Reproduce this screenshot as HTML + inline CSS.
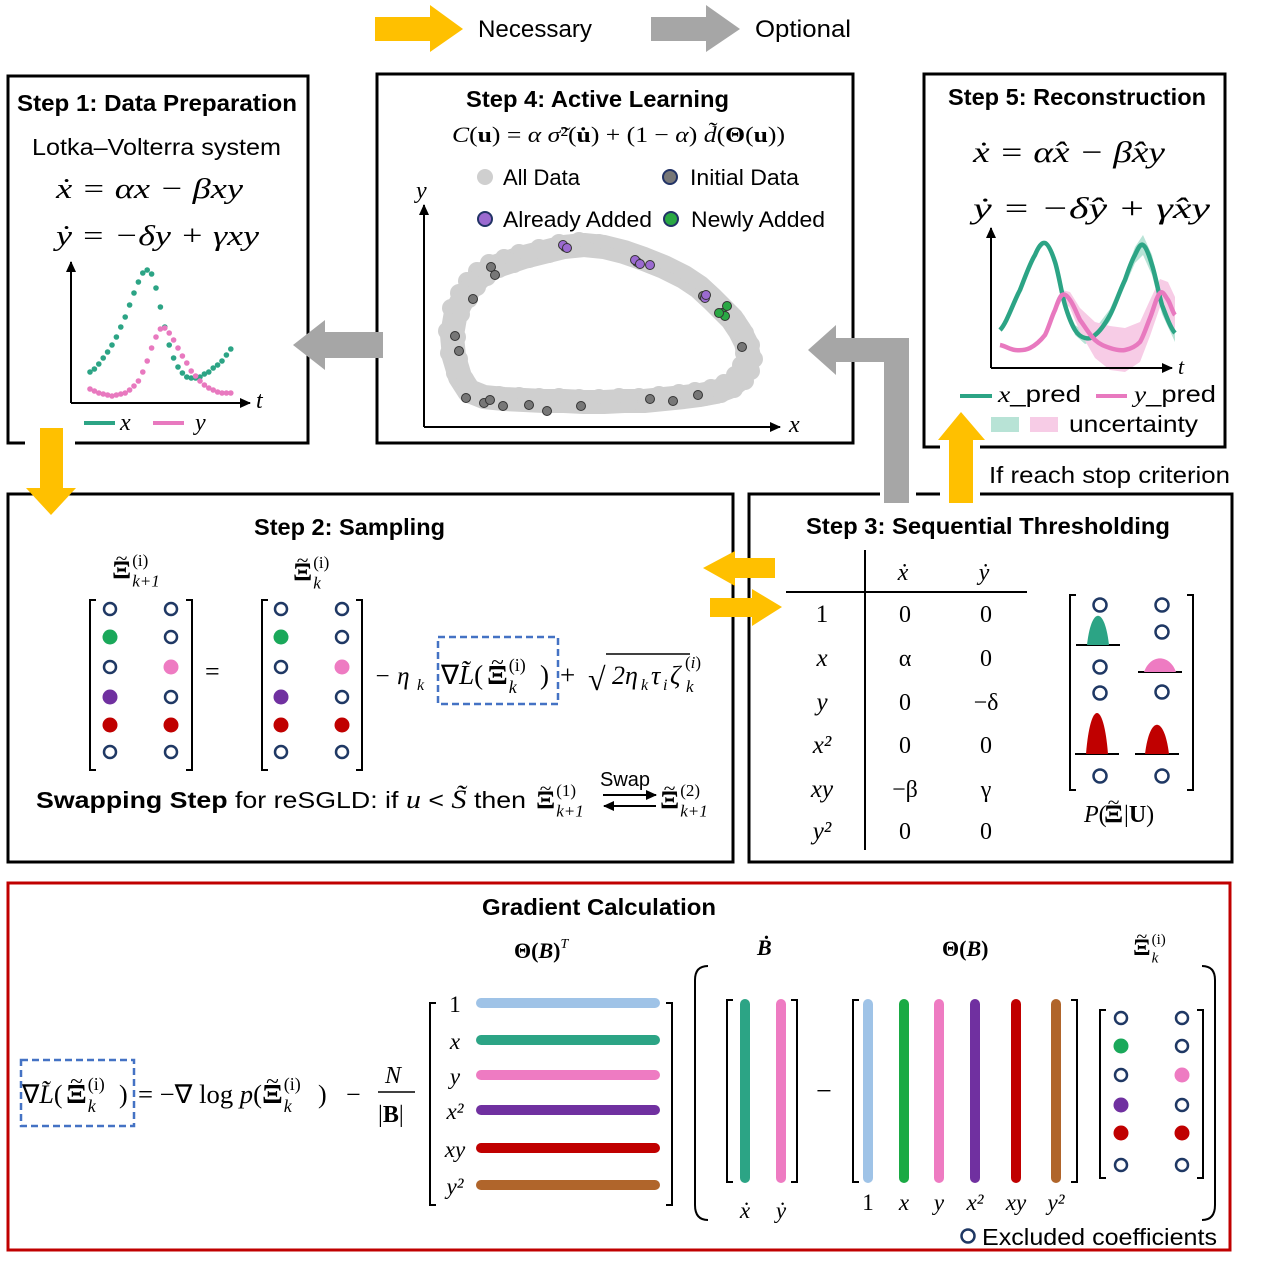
<!DOCTYPE html>
<html><head><meta charset="utf-8"><style>
html,body{margin:0;padding:0;background:#fff}
svg{display:block;font-size:22px}
.h{font-family:"Liberation Sans",sans-serif;font-weight:bold;fill:#000}
.s{font-family:"Liberation Sans",sans-serif;fill:#000}
.m{font-family:"Liberation Serif",serif;font-style:italic;fill:#000}
.r{font-family:"Liberation Serif",serif;fill:#000}
</style></head><body>
<svg id="root" width="1262" height="1270" viewBox="0 0 1262 1270" xmlns="http://www.w3.org/2000/svg">
<defs>
<marker id="ah" markerUnits="userSpaceOnUse" markerWidth="12" markerHeight="12" refX="10" refY="6" orient="auto"><path d="M0,1 L11,6 L0,11 z" fill="#000"/></marker>
</defs>
<!-- top legend -->
<g>
<polygon points="375,17 430,17 430,5 463,29 430,52 430,41 375,41" fill="#ffc000"/>
<text x="478" y="37" class="s" font-size="24" textLength="114" lengthAdjust="spacingAndGlyphs">Necessary</text></g>
<g>
<polygon points="651,17 706,17 706,5 740,29 706,52 706,41 651,41" fill="#a6a6a6"/>
<text x="755" y="37" class="s" font-size="24" textLength="96" lengthAdjust="spacingAndGlyphs">Optional</text></g>

<!-- boxes -->
<rect x="8" y="76" width="300" height="367" fill="none" stroke="#000" stroke-width="3"/>
<rect x="377" y="74" width="476" height="369" fill="none" stroke="#000" stroke-width="3"/>
<rect x="924" y="74" width="301" height="373" fill="none" stroke="#000" stroke-width="3"/>
<rect x="8" y="494" width="725" height="368" fill="none" stroke="#000" stroke-width="3"/>
<rect x="749" y="494" width="483" height="368" fill="none" stroke="#000" stroke-width="3"/>
<rect x="8" y="883" width="1222" height="367" fill="none" stroke="#c00000" stroke-width="3"/>

<!-- arrows between steps -->
<rect x="25" y="427" width="50" height="20" fill="#fff"/>
<polygon points="40,428 63,428 63,488 76,488 51,515 26,488 40,488" fill="#ffc000"/>
<polygon points="383,332 325,332 325,320 293,345 325,370 325,358 383,358" fill="#a6a6a6"/>
<rect x="880" y="440" width="36" height="58" fill="#fff"/>
<polygon points="909,503 884,503 884,362 836,362 836,375 808,350 836,325 836,338 909,338" fill="#a6a6a6"/>
<rect x="940" y="440" width="40" height="58" fill="#fff"/>
<polygon points="973,503 949,503 949,440 938,440 961,412 985,440 973,440" fill="#ffc000"/>
<text x="989" y="483" class="s" font-size="23" textLength="241" lengthAdjust="spacingAndGlyphs">If reach stop criterion</text>
<polygon points="775,558 735,558 735,551 703,568 735,586 735,578 775,578" fill="#ffc000"/>
<polygon points="710,598 752,598 752,589 782,607 752,626 752,617 710,617" fill="#ffc000"/>

<!-- Step 1 -->
<text x="17" y="111" class="h" font-size="23" textLength="280" lengthAdjust="spacingAndGlyphs">Step 1: Data Preparation</text>
<text x="32" y="155" class="s" font-size="23" textLength="249" lengthAdjust="spacingAndGlyphs">Lotka–Volterra system</text>
<text x="56" y="198" class="m" font-size="29" textLength="187" lengthAdjust="spacingAndGlyphs">ẋ = αx − βxy</text>
<text x="56" y="245" class="m" font-size="29" textLength="203" lengthAdjust="spacingAndGlyphs">ẏ = −δy + γxy</text>
<line x1="71" y1="403" x2="71" y2="262" stroke="#000" stroke-width="2" marker-end="url(#ah)"/>
<line x1="71" y1="403" x2="250" y2="403" stroke="#000" stroke-width="2" marker-end="url(#ah)"/>
<text x="256" y="408" class="m" font-size="24">t</text>
<g id="s1dots"></g>
<line x1="84" y1="423" x2="115" y2="423" stroke="#2ca485" stroke-width="4"/>
<text x="120" y="430" class="m" font-size="24">x</text>
<line x1="153" y1="423" x2="184" y2="423" stroke="#e879bf" stroke-width="4"/>
<text x="195" y="430" class="m" font-size="24">y</text>

<!-- Step 4 -->
<text x="466" y="107" class="h" font-size="23" textLength="263" lengthAdjust="spacingAndGlyphs">Step 4: Active Learning</text>
<text x="452" y="142" class="r" font-size="22" textLength="333" lengthAdjust="spacingAndGlyphs"><tspan font-style="italic">C</tspan>(<tspan font-weight="bold">u</tspan>) = <tspan font-style="italic">α σ̃</tspan>²(<tspan font-weight="bold">u̇</tspan>) + (1 − <tspan font-style="italic">α</tspan>) <tspan font-style="italic">d̃</tspan>(<tspan font-weight="bold">Θ</tspan>(<tspan font-weight="bold">u</tspan>))</text>
<circle cx="485" cy="177" r="8" fill="#cfcfcf"/><text x="503" y="185" class="s" font-size="22" textLength="77" lengthAdjust="spacingAndGlyphs">All Data</text>
<circle cx="670" cy="177" r="7" fill="#777" stroke="#223366" stroke-width="2"/><text x="690" y="185" class="s" font-size="22" textLength="109" lengthAdjust="spacingAndGlyphs">Initial Data</text>
<circle cx="485" cy="219" r="7" fill="#9b6ad0" stroke="#223366" stroke-width="2"/><text x="503" y="227" class="s" font-size="22" textLength="149" lengthAdjust="spacingAndGlyphs">Already Added</text>
<circle cx="671" cy="219" r="7" fill="#2aa844" stroke="#223366" stroke-width="2"/><text x="691" y="227" class="s" font-size="22" textLength="134" lengthAdjust="spacingAndGlyphs">Newly Added</text>
<line x1="424" y1="427" x2="424" y2="205" stroke="#000" stroke-width="2" marker-end="url(#ah)"/>
<line x1="424" y1="427" x2="780" y2="427" stroke="#000" stroke-width="2" marker-end="url(#ah)"/>
<text x="416" y="198" class="m" font-size="24">y</text>
<text x="789" y="432" class="m" font-size="24">x</text>
<g id="s4dots"></g>

<!-- Step 5 -->
<text x="948" y="105" class="h" font-size="23" textLength="258" lengthAdjust="spacingAndGlyphs">Step 5: Reconstruction</text>
<text x="973" y="162" class="m" font-size="30" textLength="192" lengthAdjust="spacingAndGlyphs">ẋ = α̂x − β̂xy</text>
<text x="973" y="218" class="m" font-size="30" textLength="237" lengthAdjust="spacingAndGlyphs">ẏ = −δ̂y + γ̂xy</text>
<g id="s5lines"></g>
<line x1="991" y1="368" x2="991" y2="228" stroke="#000" stroke-width="2" marker-end="url(#ah)"/>
<line x1="991" y1="368" x2="1172" y2="368" stroke="#000" stroke-width="2" marker-end="url(#ah)"/>
<text x="1178" y="374" class="m" font-size="22">t</text>
<line x1="960" y1="396" x2="992" y2="396" stroke="#2ca485" stroke-width="4"/>
<text x="998" y="402" class="s" font-size="23" textLength="83" lengthAdjust="spacingAndGlyphs"><tspan font-family="Liberation Serif" font-style="italic">x</tspan>_pred</text>
<line x1="1096" y1="396" x2="1127" y2="396" stroke="#e879bf" stroke-width="4"/>
<text x="1134" y="402" class="s" font-size="23" textLength="82" lengthAdjust="spacingAndGlyphs"><tspan font-family="Liberation Serif" font-style="italic">y</tspan>_pred</text>
<rect x="991" y="417" width="28" height="15" fill="#b8e3d6"/>
<rect x="1030" y="417" width="28" height="15" fill="#f7cce6"/>
<text x="1069" y="432" class="s" font-size="23" textLength="129" lengthAdjust="spacingAndGlyphs">uncertainty</text>

<!-- Step 2 -->
<text x="254" y="535" class="h" font-size="23" textLength="191" lengthAdjust="spacingAndGlyphs">Step 2: Sampling</text>
<g id="xis"></g>
<g id="s2mats"></g>
<text x="205" y="680" class="r" font-size="26">=</text>
<text x="374" y="684" class="m" font-size="25">− η</text>
<text x="417" y="690" class="m" font-size="16">k</text>
<rect x="438" y="637" width="120" height="67" fill="none" stroke="#4472c4" stroke-width="2.5" stroke-dasharray="7,4"/>
<text x="441" y="684" class="r" font-size="27">∇<tspan font-style="italic">L̃</tspan>(</text>
<text x="540" y="684" class="r" font-size="27">)</text>
<text x="560" y="684" class="r" font-size="27">+</text>
<text x="588" y="690" class="r" font-size="32">√</text>
<line x1="606" y1="654" x2="690" y2="654" stroke="#000" stroke-width="1.5"/>
<text x="612" y="684" class="m" font-size="26">2η</text>
<text x="641" y="690" class="m" font-size="16">k</text>
<text x="651" y="684" class="m" font-size="26">τ</text>
<text x="663" y="690" class="m" font-size="16">i</text>
<text x="670" y="684" class="m" font-size="26">ζ</text>
<text x="685" y="668" class="r" font-size="17">(<tspan font-style="italic">i</tspan>)</text>
<text x="686" y="692" class="m" font-size="17">k</text>
<text x="36" y="808" class="s" font-size="23" textLength="490" lengthAdjust="spacingAndGlyphs"><tspan font-weight="bold">Swapping Step</tspan> for reSGLD:  if  <tspan font-family="Liberation Serif" font-style="italic" font-size="26">u</tspan> &lt; <tspan font-family="Liberation Serif" font-style="italic" font-size="26">S̃</tspan>  then</text>
<text x="600" y="786" class="s" font-size="20">Swap</text>
<line x1="603" y1="795" x2="656" y2="795" stroke="#000" stroke-width="2" marker-end="url(#ah)"/>
<line x1="656" y1="806" x2="604" y2="806" stroke="#000" stroke-width="2" marker-end="url(#ah)"/>

<!-- Step 3 -->
<text x="806" y="534" class="h" font-size="23" textLength="364" lengthAdjust="spacingAndGlyphs">Step 3: Sequential Thresholding</text>
<g id="s3table"></g>
<line x1="786" y1="592" x2="1027" y2="592" stroke="#000" stroke-width="2"/>
<line x1="865" y1="550" x2="865" y2="850" stroke="#000" stroke-width="2"/>
<g id="s3post"></g>
<text x="1084" y="822" class="r" font-size="24"><tspan font-style="italic">P</tspan>(</text>
<text x="1124" y="822" class="r" font-size="24">|<tspan font-weight="bold">U</tspan>)</text>

<!-- Gradient -->
<text x="482" y="915" class="h" font-size="23" textLength="234" lengthAdjust="spacingAndGlyphs">Gradient Calculation</text>
<rect x="21" y="1060" width="113" height="66" fill="none" stroke="#4472c4" stroke-width="2.5" stroke-dasharray="7,4"/>
<text x="22" y="1103" class="r" font-size="26">∇<tspan font-style="italic">L̃</tspan>(</text>
<text x="119" y="1103" class="r" font-size="26">)</text>
<text x="138" y="1103" class="r" font-size="26" textLength="124" lengthAdjust="spacingAndGlyphs">= −∇ log <tspan font-style="italic">p</tspan>(</text>
<text x="318" y="1103" class="r" font-size="26">)</text>
<text x="346" y="1103" class="r" font-size="26">−</text>
<text x="385" y="1083" class="m" font-size="24">N</text>
<line x1="378" y1="1092" x2="415" y2="1092" stroke="#000" stroke-width="1.5"/>
<text x="378" y="1122" class="r" font-size="24">|<tspan font-weight="bold">B</tspan>|</text>
<text x="514" y="958" class="r" font-size="22" font-weight="bold">Θ(<tspan font-style="italic">B</tspan>)<tspan font-size="14" font-style="italic" font-weight="normal" dy="-10">T</tspan></text>
<text x="757" y="955" class="r" font-size="22" font-weight="bold" font-style="italic">Ḃ</text>
<text x="942" y="956" class="r" font-size="22" font-weight="bold">Θ(<tspan font-style="italic">B</tspan>)</text>
<path d="M708,966 Q695,966 695,980 L695,1205 Q695,1220 708,1220" fill="none" stroke="#000" stroke-width="2"/>
<path d="M1202,966 Q1215,966 1215,980 L1215,1205 Q1215,1220 1202,1220" fill="none" stroke="#000" stroke-width="2"/>
<text x="816" y="1100" class="r" font-size="28">−</text>
<g id="gbars"></g>
<circle cx="968" cy="1236" r="6.5" fill="none" stroke="#1f3864" stroke-width="2.5"/>
<text x="982" y="1245" class="s" font-size="23" textLength="235" lengthAdjust="spacingAndGlyphs">Excluded coefficients</text>
</svg>
<script>
const NS='http://www.w3.org/2000/svg';
function mk(p,tag,a){const e=document.createElementNS(NS,tag);for(const k in a)e.setAttribute(k,a[k]);p.appendChild(e);return e;}
function txt(p,x,y,s,cls,extra){const e=mk(p,'text',Object.assign({x:x,y:y,class:cls,'text-anchor':'middle'},extra||{}));e.textContent=s;return e;}
const GREEN='#2ca485',PINK='#e879bf';

// Xi symbols with tilde and super/subscripts
const xg=document.getElementById('xis');
function xi(x,y,size,sup,sub){
  const w=size*0.8;
  const t=mk(xg,'text',{x:x,y:y,class:'r','font-weight':'bold','font-size':size*1.05,textLength:w,lengthAdjust:'spacingAndGlyphs'});t.textContent='Ξ';
  const tl=mk(xg,'text',{x:x+w/2,y:y-size*0.55,class:'r','font-size':size*0.9,'text-anchor':'middle'});tl.textContent='~';
  const ss=Math.round(size*0.7);
  const a=mk(xg,'text',{x:x+w+1,y:y-size*0.5,class:'r','font-size':ss});a.textContent=sup;
  const b=mk(xg,'text',{x:x+w+1,y:y+size*0.35,class:'m','font-size':ss});b.textContent=sub;
}
xi(112,578,24,'(i)','k+1');
xi(293,580,24,'(i)','k');
xi(487,684,26,'(i)','k');
xi(536,808,24,'(1)','k+1');
xi(660,808,24,'(2)','k+1');
xi(66,1103,26,'(i)','k');
xi(262,1103,26,'(i)','k');
xi(1133,955,22,'(i)','k');
xi(1104,822,24,'','');

// Step1 LV dots
const lvX=[30,33,38,44,50,57,65,75,85,97,109,120,129,132,128,114,95,75,57,44,35,29,25,24,24,25,28,30,34,37,41,47,53];
const lvY=[13,11,9,8,7,6,7,8,9,12,16,21,30,41,54,65,73,74,69,62,54,46,39,31,26,21,17,14,12,10,9,9,9];
const t1=i=>90+i*4.4, v1=v=>402-v;
const s1=document.getElementById('s1dots');
lvX.forEach((v,i)=>{const c=mk(s1,'circle',{cx:t1(i),cy:v1(v),r:2.8,fill:GREEN});

});
lvY.forEach((v,i)=>{const c=mk(s1,'circle',{cx:t1(i),cy:v1(v),r:2.8,fill:PINK});

});

// Step4 scatter
const allX=[40,48,58,70,85,100,120,140,160,180,200,220,240,260,275,288,298,308,316,322,325,322,316,305,292,276,260,240,220,200,180,160,140,120,100,80,60,45,36,30,28,32];
const allY=[130,142,152,160,165,170,175,180,182,180,175,168,160,150,140,128,118,108,96,84,70,58,48,40,35,32,30,28,26,26,25,25,26,26,27,28,30,36,50,70,92,115];
const initX=[67,71,49,31,35,141,213,279,318,42,60,66,79,105,123,157,226,249,274];
const initY=[160,152,128,91,76,180,165,131,80,29,24,27,21,22,16,21,28,26,32];
const addX=[139,143,211,216,226,281,282];
const addY=[182,179,167,163,162,129,132];
const newX=[298,303,301,295];
const newY=[114,121,111,114];
const X4=v=>424+v, Y4=v=>427-v;
const s4=document.getElementById('s4dots');
const ring=mk(s4,'path',{d:'M'+allX.map((v,i)=>X4(v)+','+Y4(allY[i])).join(' L')+' Z',fill:'none',stroke:'#cfcfcf','stroke-width':24,'stroke-linejoin':'round'});


allX.forEach((v,i)=>{for(let j=0;j<4;j++){const c=mk(s4,'circle',{cx:X4(v)+((j*7)%11)-5,cy:Y4(allY[i])+((j*5)%9)-4,r:9,fill:'#cfcfcf'});

}});
function pts(xs,ys,fill,name){xs.forEach((v,i)=>{const c=mk(s4,'circle',{cx:X4(v),cy:Y4(ys[i]),r:4.5,fill:fill,stroke:'#333','stroke-width':1});

});}
pts(initX,initY,'#777','initial-point');pts(addX,addY,'#9b6ad0','added-point');pts(newX,newY,'#2aa844','new-point');

// Step5 prediction curves
const tX=[0,20,35,45,55,65,75,85,95,110,125,135,143,152,162,175];
const xp=[38,78,113,125,106,63,38,30,33,53,88,113,123,103,63,35];
const tY=[0,15,30,45,55,62,70,80,95,110,125,140,150,160,168,175];
const yp=[23,18,20,33,58,73,68,48,28,20,18,26,50,75,68,53];
const xBand=[0,0,0,1,2,3,5,6,6,6,6,8,10,10,9,9];
const yBand=[0,0,0,1,3,5,8,12,18,22,22,20,18,14,18,18];
const T5=v=>1000+v, V5=v=>368-v;
const s5=document.getElementById('s5lines');
function band(ts,vals,w,fill,name){let up=vals.map((v,i)=>T5(ts[i])+','+V5(v+w[i])),dn=vals.map((v,i)=>T5(ts[i])+','+V5(v-w[i])).reverse();
const p=mk(s5,'path',{d:'M'+up.join(' L')+' L'+dn.join(' L')+' Z',fill:fill,'stroke-linejoin':'round'});

}
band(tX,xp,xBand,'#b8e3d6','x-uncertainty');band(tY,yp,yBand,'#f7cce6','y-uncertainty');
function curve(ts,vals,col,name){let d='M'+T5(ts[0])+','+V5(vals[0]);for(let i=1;i<vals.length;i++){
const p0=vals[Math.max(0,i-2)],p1=vals[i-1],p2=vals[i],p3=vals[Math.min(vals.length-1,i+1)];
const c1=p1+(p2-p0)/6,c2=p2-(p3-p1)/6;const x1=T5(ts[i-1]),x2=T5(ts[i]);
d+=' C'+(x1+(x2-x1)/3)+','+V5(c1)+' '+(x2-(x2-x1)/3)+','+V5(c2)+' '+x2+','+V5(p2);}
const p=mk(s5,'path',{d:d,fill:'none',stroke:col,'stroke-width':4.5});

}
curve(tX,xp,GREEN,'x-pred-line');curve(tY,yp,PINK,'y-pred-line');

// coefficient matrices
const coefColors=[['o','o'],['#1aa85a','o'],['o','#ee7bc2'],['#7030a0','o'],['#c00000','#c00000'],['o','o']];
function circ(p,x,y,c,r){const e=mk(p,'circle',c==='o'?{cx:x,cy:y,r:r,fill:'#fff',stroke:'#1f3864','stroke-width':2.5}:{cx:x,cy:y,r:r+1.5,fill:c});

}
function brackets(p,x1,x2,y1,y2){mk(p,'path',{d:`M${x1+6},${y1} L${x1},${y1} L${x1},${y2} L${x1+6},${y2}`,fill:'none',stroke:'#000','stroke-width':2});
mk(p,'path',{d:`M${x2-6},${y1} L${x2},${y1} L${x2},${y2} L${x2-6},${y2}`,fill:'none',stroke:'#000','stroke-width':2});}
const s2=document.getElementById('s2mats');
const rowsY2=[609,637,667,697,725,752];
[[90,192,110,171],[262,362,281,342]].forEach(m=>{brackets(s2,m[0],m[1],600,770);coefColors.forEach((r,i)=>{circ(s2,m[2],rowsY2[i],r[0],6);circ(s2,m[3],rowsY2[i],r[1],6);});});

// Step3 table
const terms=['1','x','y','x²','xy','y²'];
const colXd=['0','α','0','0','−β','0'];
const colYd=['0','0','−δ','0','γ','0'];
const rowY3=[622,666,710,753,797,839];
const s3=document.getElementById('s3table');
txt(s3,903,580,'ẋ','m',{'font-size':24});txt(s3,984,580,'ẏ','m',{'font-size':24});
terms.forEach((t,i)=>{txt(s3,822,rowY3[i],t,t==='1'?'r':'m',{'font-size':25});txt(s3,905,rowY3[i],colXd[i],'r',{'font-size':24});txt(s3,986,rowY3[i],colYd[i],'r',{'font-size':24});});

// Step3 posterior
const s3p=document.getElementById('s3post');
brackets(s3p,1070,1193,595,790);
[[1100,605],[1162,605],[1162,632],[1100,667],[1100,693],[1162,692],[1100,776],[1162,776]].forEach(p=>circ(s3p,p[0],p[1],'o',6.5));
const bellCx=[1098,1160,1097,1157], bellBase=[645,672,754,754], bellH=[30,14,42,30], bellW=[11,16,11,12], bellCol=['#2ca485','#ee7bc2','#c00000','#c00000'];
bellCx.forEach((cx,i)=>{const b=bellBase[i],h=bellH[i],w=bellW[i];
mk(s3p,'line',{x1:cx-22,y1:b,x2:cx+22,y2:b,stroke:'#000','stroke-width':2});
const p=mk(s3p,'path',{d:`M${cx-w},${b} C${cx-w*0.6},${b-h*1.3} ${cx+w*0.6},${b-h*1.3} ${cx+w},${b} Z`,fill:bellCol[i]});

});

// Gradient section
const lib=['#9fc3e7','#2ca485','#ee7bc2','#7030a0','#c00000','#b0652b'];
const libB=['#9fc3e7','#1aaa44','#ee7bc2','#7030a0','#c00000','#b0652b'];
const g=document.getElementById('gbars');
brackets(g,430,672,1003,1205);
const rowsG=[1003,1040,1075,1110,1148,1185];
terms.forEach((t,i)=>{const l=mk(g,'line',{x1:481,y1:rowsG[i],x2:655,y2:rowsG[i],stroke:lib[i],'stroke-width':10,'stroke-linecap':'round'});


txt(g,455,rowsG[i]+9,t,t==='1'?'r':'m',{'font-size':23});});
brackets(g,727,797,1000,1182);
[[745,GREEN,'ẋ'],[781,'#ee7bc2','ẏ']].forEach(b=>{const l=mk(g,'line',{x1:b[0],y1:1004,x2:b[0],y2:1178,stroke:b[1],'stroke-width':10,'stroke-linecap':'round'});


txt(g,b[0],1218,b[2],'m',{'font-size':23});});
brackets(g,853,1077,1000,1182);
const colsT=[868,904,939,975,1016,1056];
terms.forEach((t,i)=>{const l=mk(g,'line',{x1:colsT[i],y1:1004,x2:colsT[i],y2:1178,stroke:libB[i],'stroke-width':10,'stroke-linecap':'round'});


txt(g,colsT[i],1210,t,t==='1'?'r':'m',{'font-size':23});});
brackets(g,1100,1203,1010,1178);
const rowsX=[1018,1046,1075,1105,1133,1165];
coefColors.forEach((r,i)=>{circ(g,1121,rowsX[i],r[0],6);circ(g,1182,rowsX[i],r[1],6);});
</script>
</body></html>
